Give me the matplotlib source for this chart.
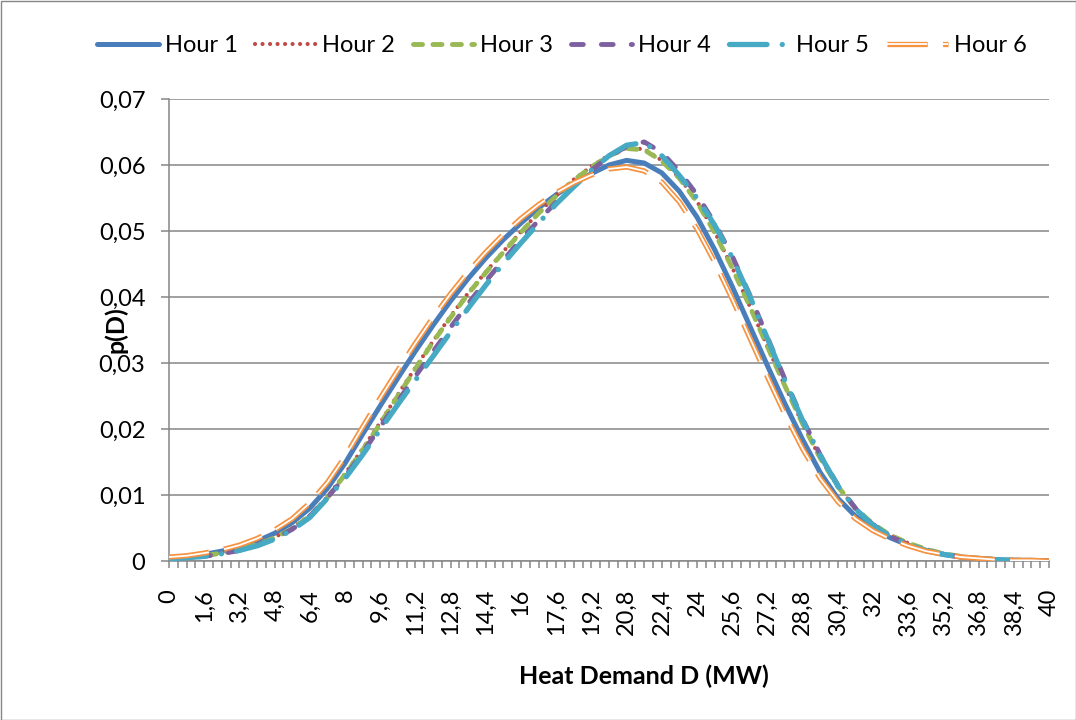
import numpy as np
import matplotlib
matplotlib.use("Agg")
import matplotlib.pyplot as plt
from matplotlib import patheffects as pe
from matplotlib.patches import Rectangle

plt.rcParams['font.family'] = ['Lato', 'DejaVu Sans']
plt.rcParams['lines.scale_dashes'] = False

# Heat demand categories (MW), step 0.8
demand = np.round(np.arange(51) * 0.8, 1)

hour1 = [0.0005, 0.0007, 0.0010, 0.0015, 0.0021, 0.0030, 0.0042, 0.0058, 0.0080, 0.0110,
         0.0148, 0.0192, 0.0235, 0.0277, 0.0318, 0.0357, 0.0394, 0.0428, 0.0459, 0.0487,
         0.0512, 0.0535, 0.0555, 0.0572, 0.0587, 0.0600, 0.0607, 0.0603, 0.0588, 0.0560,
         0.0521, 0.0472, 0.0416, 0.0356, 0.0296, 0.0238, 0.0184, 0.0134, 0.0095, 0.0068,
         0.0049, 0.0035, 0.0024, 0.0016, 0.0010, 0.0006, 0.0004, 0.0002, 0.0001, 0.0001,
         0.0000]
hour2 = [0.0004, 0.0006, 0.0008, 0.0012, 0.0018, 0.0025, 0.0036, 0.0050, 0.0069, 0.0097,
         0.0132, 0.0170, 0.0210, 0.0252, 0.0293, 0.0333, 0.0371, 0.0406, 0.0438, 0.0469,
         0.0499, 0.0528, 0.0554, 0.0578, 0.0598, 0.0615, 0.0626, 0.0624, 0.0607, 0.0581,
         0.0545, 0.0499, 0.0445, 0.0386, 0.0325, 0.0265, 0.0208, 0.0156, 0.0113, 0.0080,
         0.0056, 0.0039, 0.0027, 0.0018, 0.0011, 0.0007, 0.0004, 0.0002, 0.0001, 0.0001,
         0.0000]
hour3 = [0.0004, 0.0005, 0.0008, 0.0012, 0.0017, 0.0025, 0.0035, 0.0049, 0.0068, 0.0096,
         0.0131, 0.0168, 0.0208, 0.0250, 0.0291, 0.0332, 0.0369, 0.0405, 0.0437, 0.0468,
         0.0498, 0.0527, 0.0553, 0.0577, 0.0597, 0.0614, 0.0625, 0.0623, 0.0606, 0.0580,
         0.0544, 0.0498, 0.0444, 0.0386, 0.0325, 0.0265, 0.0208, 0.0156, 0.0113, 0.0080,
         0.0056, 0.0039, 0.0027, 0.0018, 0.0011, 0.0007, 0.0004, 0.0002, 0.0001, 0.0001,
         0.0000]
hour4 = [0.0003, 0.0005, 0.0007, 0.0011, 0.0016, 0.0023, 0.0034, 0.0048, 0.0068, 0.0096,
         0.0128, 0.0164, 0.0203, 0.0242, 0.0280, 0.0317, 0.0354, 0.0390, 0.0424, 0.0456,
         0.0487, 0.0516, 0.0544, 0.0569, 0.0592, 0.0613, 0.0628, 0.0635, 0.0619, 0.0590,
         0.0555, 0.0512, 0.0462, 0.0403, 0.0339, 0.0275, 0.0215, 0.0161, 0.0115, 0.0080,
         0.0055, 0.0037, 0.0025, 0.0016, 0.0010, 0.0006, 0.0004, 0.0002, 0.0001, 0.0001,
         0.0000]
hour5 = [0.0003, 0.0005, 0.0007, 0.0011, 0.0016, 0.0023, 0.0033, 0.0047, 0.0066, 0.0095,
         0.0125, 0.0161, 0.0199, 0.0237, 0.0274, 0.0310, 0.0347, 0.0383, 0.0418, 0.0451,
         0.0482, 0.0512, 0.0541, 0.0567, 0.0592, 0.0614, 0.0630, 0.0634, 0.0614, 0.0584,
         0.0550, 0.0509, 0.0460, 0.0401, 0.0337, 0.0273, 0.0213, 0.0160, 0.0114, 0.0079,
         0.0054, 0.0037, 0.0025, 0.0016, 0.0010, 0.0006, 0.0004, 0.0002, 0.0001, 0.0001,
         0.0000]
hour6 = [0.0006, 0.0008, 0.0012, 0.0017, 0.0024, 0.0034, 0.0047, 0.0064, 0.0088, 0.0119,
         0.0158, 0.0203, 0.0247, 0.0289, 0.0330, 0.0369, 0.0405, 0.0438, 0.0468, 0.0495,
         0.0519, 0.0540, 0.0558, 0.0573, 0.0585, 0.0594, 0.0597, 0.0591, 0.0574, 0.0544,
         0.0503, 0.0453, 0.0397, 0.0338, 0.0279, 0.0222, 0.0170, 0.0125, 0.0090, 0.0064,
         0.0046, 0.0033, 0.0023, 0.0015, 0.0010, 0.0006, 0.0004, 0.0002, 0.0001, 0.0001,
         0.0000]

series_names = ["Hour 1", "Hour 2", "Hour 3", "Hour 4", "Hour 5", "Hour 6"]
series_values = [hour1, hour2, hour3, hour4, hour5, hour6]

xtick_labels = ["0", "1,6", "3,2", "4,8", "6,4", "8", "9,6", "11,2", "12,8", "14,4",
                "16", "17,6", "19,2", "20,8", "22,4", "24", "25,6", "27,2", "28,8",
                "30,4", "32", "33,6", "35,2", "36,8", "38,4", "40"]
ytick_labels = ["0", "0,01", "0,02", "0,03", "0,04", "0,05", "0,06", "0,07"]

grey = '#868686'
orange = '#F69240'
styles = [
    dict(color='#4A7EBB', lw=3.6, ls='-', solid_capstyle='round'),
    dict(color='#BE4B48', lw=3.0, dashes=(0.01, 5.4), dash_capstyle='round'),
    dict(color='#98B954', lw=3.5, dashes=(6.5, 7.5), dash_capstyle='round'),
    dict(color='#7D60A0', lw=3.5, dashes=(8.5, 13), dash_capstyle='round'),
    dict(color='#46AAC5', lw=3.8, dashes=(27, 11, 0.01, 11), dash_capstyle='round'),
    dict(color=orange, lw=3.8, dashes=(29, 11), dash_capstyle='butt',
         path_effects=[pe.Stroke(linewidth=3.8, foreground=orange),
                       pe.Stroke(linewidth=1.3, foreground='white')]),
]

fig = plt.figure(figsize=(10.76, 7.2), dpi=100)
ax = fig.add_axes([169 / 1076, 159 / 720, 880 / 1076, 462 / 720])

for i, (name, vals, st) in enumerate(zip(series_names, series_values, styles)):
    ax.plot(demand, vals, label=name, zorder=3 + i, **st)

ax.set_xlim(0, 40)
ax.set_ylim(0, 0.07)
ax.set_yticks(np.arange(len(ytick_labels)) * 0.01)
ax.set_yticklabels(ytick_labels)
ax.set_xticks(np.arange(len(xtick_labels)) * 1.6)
ax.set_xticklabels(xtick_labels, rotation=90, va='top', ha='center')
ax.set_xticks(np.arange(101) * 0.4, minor=True)

ax.yaxis.grid(True, color=grey, lw=1.1)
ax.set_axisbelow(True)
for s in ('top', 'right'):
    ax.spines[s].set_visible(False)
for s in ('left', 'bottom'):
    ax.spines[s].set_color(grey)
    ax.spines[s].set_linewidth(1.1)

ax.tick_params(axis='y', which='major', direction='out', length=6, width=1.1,
               color=grey, labelsize=17, pad=11)
ax.tick_params(axis='x', which='both', direction='out', length=5, width=1.1,
               color=grey, labelsize=17, pad=15)

fig.text(644 / 1076, 1 - 676 / 720, "Heat Demand D (MW)", fontsize=18,
         fontweight='bold', ha='center', va='center')
fig.text(116 / 1076, 1 - 330 / 720, "p(D)", fontsize=18, fontweight='bold',
         rotation=90, ha='center', va='center')

fig.legend(loc='center', bbox_to_anchor=(562 / 1076, 1 - 46 / 720), ncol=6,
           frameon=False, fontsize=17, handlelength=2.6, handletextpad=0.25,
           columnspacing=0.75, borderaxespad=0)

fig.patches.append(Rectangle((0.5 / 1076, 0.5 / 720), 1 - 1.0 / 1076, 1 - 1.0 / 720,
                             transform=fig.transFigure, fill=False,
                             edgecolor=grey, lw=1.0))

fig.savefig("out.png", dpi=100)
